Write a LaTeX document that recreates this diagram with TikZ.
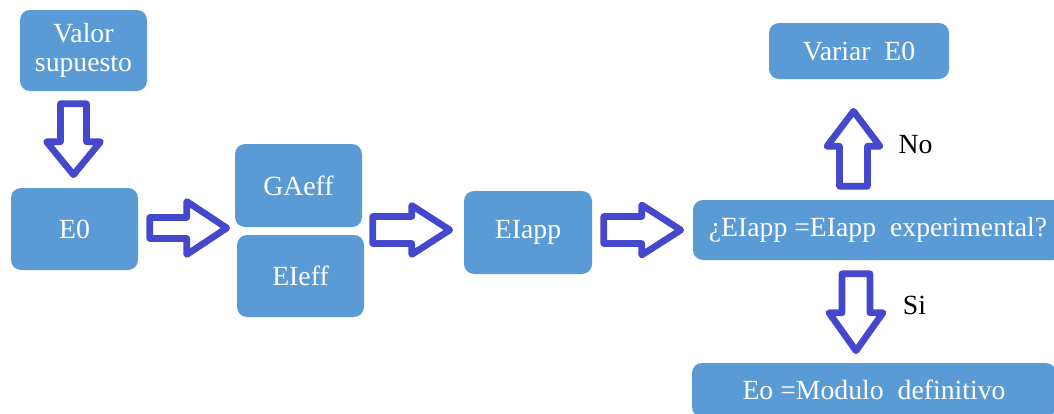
\documentclass[tikz,border=0pt]{standalone}
\usepackage{fontspec}
\setmainfont{Liberation Serif}
\usetikzlibrary{calc}
\definecolor{boxblue}{HTML}{5B9BD5}
\definecolor{arrblue}{HTML}{4348CC}
\newcommand{\blockarr}[6]{%
  \draw[barrow, shift={#1}, rotate=#2]
    (0,-#5) -- ({#3-#4},-#5) -- ({#3-#4},-#6) -- (#3,0) -- ({#3-#4},#6)
    -- ({#3-#4},#5) -- (0,#5) -- cycle;}
\begin{document}
\begin{tikzpicture}[x=0.75pt,y=-0.75pt,
  bx/.style 2 args={draw=none, fill=boxblue, rounded corners=7.5pt,
    minimum width=#1*0.75pt, minimum height=#2*0.75pt, inner sep=0pt,
    text=white, font=\fontsize{20.8}{22}\selectfont, align=center},
  lbl/.style={font=\fontsize{20.8}{22}\selectfont, text=black, inner sep=0pt},
  barrow/.style={draw=arrblue, fill=white, line width=5pt, line join=round}]
\useasboundingbox (0,0) rectangle (1054,414);
\clip (0,0) rectangle (1054,414);
\fill[white] (0,0) rectangle (1054,414);
% boxes
\node[bx={127}{81}] (valor) at (83.5,50.5) {Valor\\supuesto};
\node[bx={127}{82}] (e0) at (74.5,229) {E0};
\node[bx={127}{83}] (ga) at (298.5,185.5) {GAeff};
\node[bx={127}{82}] (ei) at (300.5,276) {EIeff};
\node[bx={128}{83}] (eiapp) at (528,232.5) {EIapp};
\node[bx={370}{60}] (dec) at (878,230) {¿EIapp =EIapp\ \ experimental?};
\node[bx={180}{56}] (variar) at (859,51) {Variar\ \ E0};
\node[bx={364}{54}] (eo) at (874,390) {Eo =Modulo\ \ definitivo};
% labels
\node[lbl] (no) at (915.5,145) {No};
\node[lbl] (si) at (914.5,305) {Si};
% block arrows
\blockarr{($(e0.north |- valor.south)+(-1,12.5)$)}{-90}{71}{33}{13}{27}
\blockarr{($(e0.east)+(11.5,-1)$)}{0}{77}{40}{10.5}{26.5}
\blockarr{($(ga.east |- eiapp.west)+(10.5,-2.5)$)}{0}{77}{38}{13.5}{24.5}
\blockarr{($(eiapp.east)+(11.5,-2.5)$)}{0}{77}{39}{13.5}{25}
\blockarr{($(variar.south |- dec.north)+(-5.5,-13.5)$)}{90}{75}{35}{14}{26.5}
\blockarr{($(variar.south |- dec.south)+(-3,13.5)$)}{-90}{77}{38}{14}{27}
\end{tikzpicture}
\end{document}
